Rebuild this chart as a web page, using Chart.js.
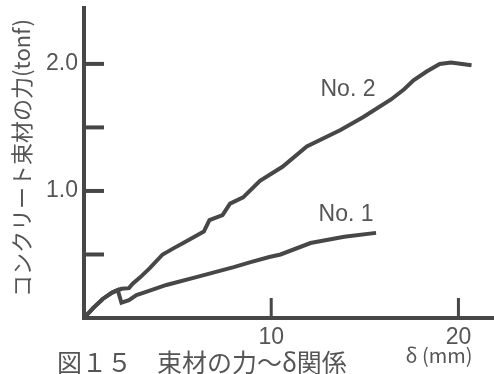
<!DOCTYPE html>
<html>
<head>
<meta charset="utf-8">
<script src="https://cdn.jsdelivr.net/npm/chart.js@4.4.0/dist/chart.umd.min.js"></script>
<style>
  html, body { margin: 0; padding: 0; background: #fff; }
  #wrap { width: 494px; height: 374px; position: relative; }
</style>
</head>
<body>
<div id="wrap"><canvas id="c" width="494" height="374"></canvas></div>
<script>
// データ (δ mm, 力 tonf)
const no2X = [0, 0.5, 1.0, 1.5, 2.0, 2.4, 2.6, 3.0, 3.5, 4.2, 4.8, 5.3, 5.9, 6.4, 6.7, 7.4, 7.8, 8.5, 9.4, 10.6, 11.9, 13.7, 14.9, 16.4, 17.1, 17.6, 18.3, 19.0, 19.6, 20.7];
const no2Y = [0, 0.08, 0.15, 0.2, 0.23, 0.235, 0.27, 0.32, 0.39, 0.5, 0.55, 0.59, 0.64, 0.68, 0.77, 0.81, 0.9, 0.95, 1.08, 1.19, 1.35, 1.48, 1.58, 1.72, 1.8, 1.87, 1.94, 2.0, 2.01, 1.99];
const no1X = [0, 0.5, 1.0, 1.5, 1.8, 2.0, 2.4, 2.8, 3.2, 4.4, 6.2, 8.0, 8.9, 9.9, 10.5, 12.1, 13.9, 15.6];
const no1Y = [0, 0.08, 0.15, 0.2, 0.22, 0.12, 0.14, 0.18, 0.2, 0.26, 0.33, 0.4, 0.44, 0.48, 0.5, 0.59, 0.64, 0.67];
const xTicks = [10, 20];
const yTicks = [0.5, 1.0, 1.5, 2.0];
const yLabels = [1.0, 2.0];
const seriesNames = ['No. 2', 'No. 1'];

const ink = '#474747';
const textInk = '#555';
const narrow = '"Liberation Sans Narrow", "Liberation Sans", sans-serif';

const toPts = (xs, ys) => xs.map((x, i) => ({ x: x, y: ys[i] }));

// 目盛り・ラベル・タイトルを描く
const decor = {
  id: 'decor',
  afterDraw(chart) {
    const ctx = chart.ctx;
    const xs = chart.scales.x, ys = chart.scales.y;
    const area = chart.chartArea;
    ctx.save();
    ctx.strokeStyle = ink;
    ctx.lineCap = 'butt';
    // x の目盛り (内向き)
    ctx.lineWidth = 3;
    xTicks.forEach(v => {
      const px = xs.getPixelForValue(v);
      ctx.beginPath();
      ctx.moveTo(px, area.bottom);
      ctx.lineTo(px, area.bottom - 20);
      ctx.stroke();
    });
    // y の目盛り (内向き)
    ctx.lineWidth = 4;
    yTicks.forEach(v => {
      const py = ys.getPixelForValue(v);
      ctx.beginPath();
      ctx.moveTo(area.left, py);
      ctx.lineTo(area.left + 20, py);
      ctx.stroke();
    });

    ctx.fillStyle = textInk;
    // 系列名
    ctx.font = '23px ' + narrow;
    ctx.textAlign = 'center';
    ctx.textBaseline = 'middle';
    ctx.fillText(seriesNames[0], xs.getPixelForValue(14.1), ys.getPixelForValue(1.8));
    ctx.fillText(seriesNames[1], xs.getPixelForValue(14.0), ys.getPixelForValue(0.81));

    // δ (mm)
    ctx.font = '20px "Noto Sans CJK JP", sans-serif';
    ctx.fillText('δ (mm)', 439, 355);

    // 図タイトル
    ctx.font = '25px "Noto Sans CJK JP", sans-serif';
    ctx.textAlign = 'left';
    ctx.textBaseline = 'top';
    ctx.fillText('図１５　束材の力～δ関係', 57, 350);

    // 縦軸タイトル
    ctx.translate(22, 158);
    ctx.rotate(-Math.PI / 2);
    ctx.textAlign = 'center';
    ctx.textBaseline = 'middle';
    ctx.font = '22px "Noto Sans CJK JP", sans-serif';
    ctx.fillText('コンクリート束材の力(tonf)', 0, 0);
    ctx.restore();
  }
};

new Chart(document.getElementById('c'), {
  type: 'scatter',
  data: {
    datasets: [
      { label: seriesNames[0], data: toPts(no2X, no2Y) },
      { label: seriesNames[1], data: toPts(no1X, no1Y) }
    ]
  },
  options: {
    responsive: false,
    animation: false,
    showLine: true,
    layout: { padding: { top: 8, right: 0, left: 0, bottom: 0 } },
    elements: {
      point: { radius: 0 },
      line: { borderColor: ink, borderWidth: 4, tension: 0, fill: false }
    },
    plugins: {
      legend: { display: false },
      tooltip: { enabled: false }
    },
    scales: {
      x: {
        type: 'linear',
        min: 0,
        max: 21.9,
        afterBuildTicks: s => { s.ticks = xTicks.map(v => ({ value: v })); },
        afterFit: s => { s.height = 56; s.paddingLeft = 0; s.paddingRight = 0; },
        grid: { display: false, drawTicks: false },
        border: { display: true, color: ink, width: 4 },
        ticks: {
          color: textInk,
          padding: 6,
          font: { family: narrow, size: 23 }
        }
      },
      y: {
        type: 'linear',
        min: 0,
        max: 2.44,
        afterBuildTicks: s => { s.ticks = yLabels.map(v => ({ value: v })); },
        afterFit: s => { s.width = 84; s.paddingTop = 0; s.paddingBottom = 0; },
        grid: { display: false, drawTicks: false },
        border: { display: true, color: ink, width: 4 },
        ticks: {
          color: textInk,
          padding: 6,
          callback: v => v.toFixed(1),
          font: { family: narrow, size: 23 }
        }
      }
    }
  },
  plugins: [decor]
});
</script>
</body>
</html>
